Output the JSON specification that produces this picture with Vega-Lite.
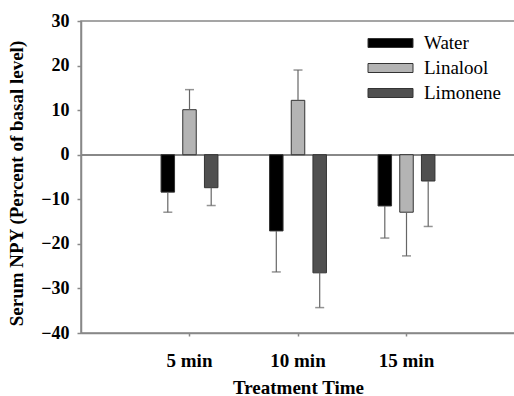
{
  "$schema": "https://vega.github.io/schema/vega-lite/v6.json",
  "width": 434,
  "height": 312,
  "autosize": "none",
  "padding": {"left": 81, "top": 21, "right": 0, "bottom": 63},
  "background": "white",
  "config": {
    "font": "Liberation Serif",
    "view": {"stroke": "#888888", "strokeWidth": 1.5}
  },
  "data": {
    "values": [
      {"time": "5 min", "group": "Water", "value": -8.4, "err": -12.9},
      {"time": "5 min", "group": "Linalool", "value": 10.1, "err": 14.6},
      {"time": "5 min", "group": "Limonene", "value": -7.4, "err": -11.4},
      {"time": "10 min", "group": "Water", "value": -17.1, "err": -26.3},
      {"time": "10 min", "group": "Linalool", "value": 12.2, "err": 19.0},
      {"time": "10 min", "group": "Limonene", "value": -26.5, "err": -34.3},
      {"time": "15 min", "group": "Water", "value": -11.5, "err": -18.7},
      {"time": "15 min", "group": "Linalool", "value": -12.9, "err": -22.7},
      {"time": "15 min", "group": "Limonene", "value": -5.9, "err": -16.1}
    ]
  },
  "encoding": {
    "x": {
      "field": "time",
      "type": "nominal",
      "sort": ["5 min", "10 min", "15 min"],
      "scale": {"paddingInner": 0, "paddingOuter": 0.5},
      "axis": {
        "title": "Treatment Time",
        "labelAngle": 0,
        "labelFont": "Liberation Serif",
        "labelFontWeight": "bold",
        "labelFontSize": 19,
        "labelColor": "#000000",
        "labelPadding": 15,
        "titleFont": "Liberation Serif",
        "titleFontWeight": "bold",
        "titleFontSize": 19,
        "titleColor": "#000000",
        "titlePadding": 8,
        "domainColor": "#888888",
        "domainWidth": 1.5,
        "tickColor": "#888888",
        "tickSize": 3,
        "tickWidth": 1.5
      }
    }
  },
  "layer": [
    {
      "mark": {"type": "rule", "color": "#888888", "strokeWidth": 1.5},
      "encoding": {"y": {"datum": 0, "type": "quantitative"}, "x": {"value": 0}, "x2": {"value": 434}}
    },
    {
      "mark": {"type": "bar", "stroke": "#333333", "strokeWidth": 1, "width": 13.5},
      "encoding": {
        "xOffset": {
          "field": "group",
          "type": "nominal",
          "sort": ["Water", "Linalool", "Limonene"],
          "scale": {"paddingInner": 0, "paddingOuter": 1}
        },
        "y": {
          "field": "value",
          "type": "quantitative",
          "scale": {"domain": [-40, 30], "nice": false, "zero": false},
          "axis": {
            "values": [-40, -30, -20, -10, 0, 10, 20, 30],
            "grid": false,
            "title": "Serum NPY (Percent of basal level)",
            "labelFont": "Liberation Serif",
            "labelFontWeight": "bold",
            "labelFontSize": 18,
            "labelColor": "#000000",
            "labelPadding": 8,
            "titleFont": "Liberation Serif",
            "titleFontWeight": "bold",
            "titleFontSize": 19,
            "titleColor": "#000000",
            "titlePadding": 14,
            "titleY": 162,
            "domainColor": "#888888",
            "domainWidth": 1.5,
            "tickColor": "#888888",
            "tickSize": 4,
            "tickWidth": 1.5
          }
        },
        "fill": {
          "field": "group",
          "type": "nominal",
          "sort": ["Water", "Linalool", "Limonene"],
          "scale": {"domain": ["Water", "Linalool", "Limonene"], "range": ["#000000", "#b4b4b4", "#505050"]},
          "legend": {
            "title": null,
            "orient": "none",
            "legendX": 300,
            "legendY": 12.5,
            "padding": 0,
            "symbolType": "M-2.5,-0.5H2.5V0.5H-2.5Z",
            "symbolSize": 324,
            "symbolStrokeColor": "#333333",
            "symbolStrokeWidth": 1,
            "labelFont": "Liberation Serif",
            "labelFontSize": 19,
            "labelColor": "#000000",
            "labelOffset": 24,
            "rowPadding": 5
          }
        }
      }
    },
    {
      "mark": {"type": "rule", "color": "#666666", "strokeWidth": 1.2},
      "encoding": {
        "xOffset": {"field": "group", "type": "nominal", "sort": ["Water", "Linalool", "Limonene"], "scale": {"paddingInner": 0, "paddingOuter": 1}},
        "y": {"field": "value", "type": "quantitative"},
        "y2": {"field": "err"}
      }
    },
    {
      "mark": {"type": "tick", "color": "#666666", "thickness": 1.5, "size": 9},
      "encoding": {
        "xOffset": {"field": "group", "type": "nominal", "sort": ["Water", "Linalool", "Limonene"], "scale": {"paddingInner": 0, "paddingOuter": 1}},
        "y": {"field": "err", "type": "quantitative"}
      }
    }
  ]
}
